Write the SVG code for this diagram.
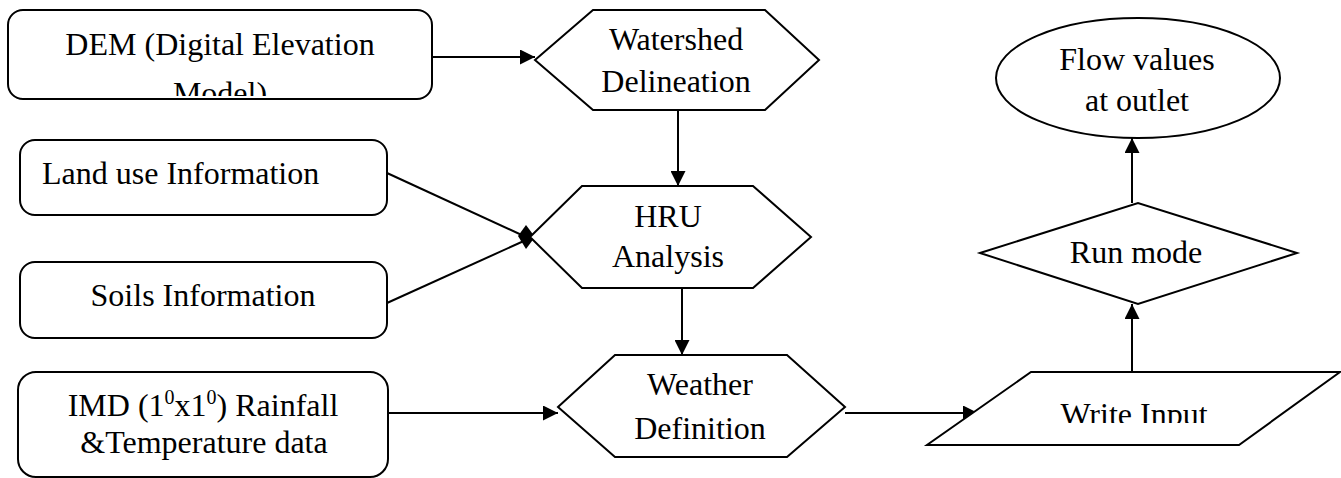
<svg xmlns="http://www.w3.org/2000/svg" width="1341" height="478" viewBox="0 0 1341 478">
<style>
.shape{fill:#fff;stroke:#000;stroke-width:2}
.lbl{font-family:"Liberation Serif","Times New Roman",serif;font-size:32px;fill:#000;text-anchor:middle}
.conn{fill:none;stroke:#000;stroke-width:2}
.sup{font-size:20px}
</style>
<defs>
<marker id="arr" markerUnits="userSpaceOnUse" markerWidth="16" markerHeight="15" refX="15" refY="7.5" orient="auto">
<path d="M0,0 L15,7.5 L0,15 z" fill="#000"/>
</marker>
<clipPath id="clipDem"><rect x="8" y="10" width="424" height="86"/></clipPath>
<clipPath id="clipWrite"><rect x="900" y="372" width="441" height="51"/></clipPath>
</defs>
<rect width="1341" height="478" fill="#fff"/>
<g id="connectors">
<line class="conn" x1="432" y1="57" x2="535" y2="57" marker-end="url(#arr)"/>
<line class="conn" x1="678" y1="110" x2="678" y2="186" marker-end="url(#arr)"/>
<line class="conn" x1="387" y1="173" x2="526" y2="237"/>
<line class="conn" x1="387" y1="303" x2="526" y2="240"/>
<polygon points="518,236 526,225 535,237 526,249" fill="#000"/>
<line class="conn" x1="682" y1="288" x2="682" y2="355" marker-end="url(#arr)"/>
<line class="conn" x1="388" y1="413" x2="558" y2="413" marker-end="url(#arr)"/>
<line class="conn" x1="845" y1="413" x2="978" y2="413" marker-end="url(#arr)"/>
<line class="conn" x1="1132" y1="372" x2="1132" y2="304" marker-end="url(#arr)"/>
<line class="conn" x1="1132" y1="203" x2="1132" y2="138" marker-end="url(#arr)"/>
</g>
<g id="dem">
<rect class="shape" x="8" y="10" width="424" height="89" rx="15"/>
<g clip-path="url(#clipDem)">
<text class="lbl" x="220" y="55">DEM (Digital Elevation</text>
<text class="lbl" x="220" y="104">Model)</text>
</g>
</g>
<g id="watershed">
<polygon class="shape" points="535,60 593,10 765,10 819,60 765,110 593,110"/>
<text class="lbl" x="676" y="50">Watershed</text>
<text class="lbl" x="676" y="92">Delineation</text>
</g>
<g id="landuse">
<rect class="shape" x="20" y="140" width="367" height="75" rx="15"/>
<text class="lbl" x="42" y="184" style="text-anchor:start">Land use Information</text>
</g>
<g id="soils">
<rect class="shape" x="20" y="262" width="367" height="76" rx="15"/>
<text class="lbl" x="203" y="306">Soils Information</text>
</g>
<g id="hru">
<polygon class="shape" points="530,237 582,186 753,186 811,237 753,288 582,288"/>
<text class="lbl" x="668" y="227">HRU</text>
<text class="lbl" x="668" y="267">Analysis</text>
</g>
<g id="imd">
<rect class="shape" x="18" y="372" width="370" height="105" rx="18"/>
<text class="lbl" x="203" y="416">IMD (1<tspan class="sup" dy="-12">0</tspan><tspan dy="12">x1</tspan><tspan class="sup" dy="-12">0</tspan><tspan dy="12">) Rainfall</tspan></text>
<text class="lbl" x="204" y="453">&amp;Temperature data</text>
</g>
<g id="weather">
<polygon class="shape" points="558,407 615,355 787,355 845,407 787,457 615,457"/>
<text class="lbl" x="700" y="395">Weather</text>
<text class="lbl" x="700" y="439">Definition</text>
</g>
<g id="writeinput">
<polygon class="shape" points="1031,372 1340,372 1239,445 927,445"/>
<text class="lbl" x="1134" y="425" clip-path="url(#clipWrite)">Write Input</text>
</g>
<g id="runmode">
<polygon class="shape" points="980,253 1138,203 1297,253 1138,304"/>
<text class="lbl" x="1136" y="263">Run mode</text>
</g>
<g id="flow">
<ellipse class="shape" cx="1138" cy="78" rx="142" ry="60"/>
<text class="lbl" x="1137" y="70">Flow values</text>
<text class="lbl" x="1137" y="111">at outlet</text>
</g>
</svg>
